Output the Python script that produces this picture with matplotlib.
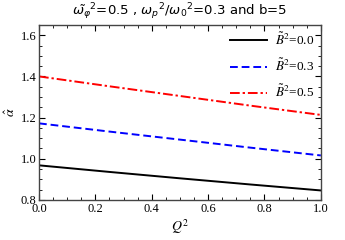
import numpy as np
import matplotlib
matplotlib.use("Agg")
import matplotlib.pyplot as plt
from matplotlib.ticker import MultipleLocator

# values
q2 = [0.0, 0.25, 0.5, 0.75, 1.0]
alpha_b00 = [0.968, 0.936, 0.905, 0.875, 0.846]
alpha_b03 = [1.172, 1.132, 1.093, 1.054, 1.016]
alpha_b05 = [1.400, 1.352, 1.305, 1.258, 1.213]
labels = [r'$\tilde{B}^2$=0.0', r'$\tilde{B}^2$=0.3', r'$\tilde{B}^2$=0.5']

plt.rcParams['mathtext.fontset'] = 'stix'
serif = 'Liberation Serif'

fig = plt.figure(figsize=(3.45, 2.4), dpi=100)
ax = fig.add_axes([0.113, 0.167, 0.817, 0.729])

ax.plot(q2, alpha_b00, color='black', lw=1.4, ls='-', label=labels[0])
ax.plot(q2, alpha_b03, color='blue', lw=1.4, ls=(0, (4, 2)), label=labels[1])
ax.plot(q2, alpha_b05, color='red', lw=1.4, ls=(0, (5, 1.5, 1.2, 1.5)), label=labels[2])

ax.set_xlim(0, 1)
ax.set_ylim(0.8, 1.65)
ax.xaxis.set_major_locator(MultipleLocator(0.2))
ax.xaxis.set_minor_locator(MultipleLocator(0.05))
ax.yaxis.set_major_locator(MultipleLocator(0.2))
ax.yaxis.set_minor_locator(MultipleLocator(0.05))
ax.tick_params(which='both', direction='in', top=True, right=True,
               labelsize=9, pad=2)
ax.tick_params(which='major', length=4, width=0.8)
ax.tick_params(which='minor', length=2, width=0.6)
for lab in ax.get_xticklabels() + ax.get_yticklabels():
    lab.set_family(serif)
for s in ax.spines.values():
    s.set_color('#444444')
    s.set_linewidth(1.0)

ax.set_xlabel(r'$Q^2$', fontsize=10, labelpad=2)
ax.set_ylabel(r'$\hat{\alpha}$', fontsize=10, labelpad=2)
ax.set_title(r'$\tilde{\omega_\varphi}^2$=0.5 , $\omega_p{}^2/\omega_0{}^2$=0.3 and b=5',
             fontsize=9.5, pad=7, family='DejaVu Sans', math_fontfamily='dejavusans')

leg = ax.legend(loc='upper right', frameon=False, fontsize=9.5, handlelength=2.8,
                labelspacing=0.75, borderaxespad=0.1, handletextpad=0.6)
for t in leg.get_texts():
    t.set_family(serif)

fig.savefig('out.png', dpi=100)
